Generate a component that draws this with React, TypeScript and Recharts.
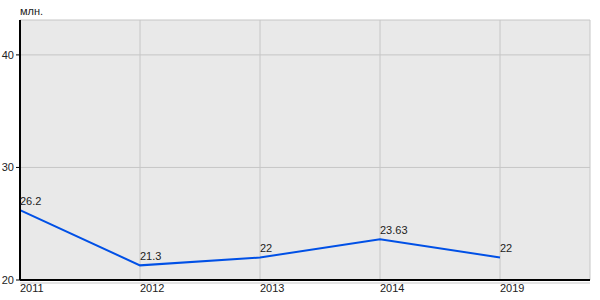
import React from 'react';
import { LineChart, Line, XAxis, YAxis, CartesianGrid, LabelList } from 'recharts';

const years = ['2011', '2012', '2013', '2014', '2019'];
const values = [26.2, 21.3, 22, 23.63, 22];
const yTicks = [20, 30, 40];
const unitLabel = 'млн.';

const data = years.map((y, i) => ({ idx: i, year: y, value: values[i] }));
const xTicks = years.map((_, i) => i);

const FONT = 'Liberation Sans, Arial, sans-serif';

const XTick = (props: any) => {
  const { x, y, payload } = props;
  return (
    <text x={x} y={y} textAnchor="start" dominantBaseline="central" fontSize={11} fontFamily={FONT} fill="#222">
      {years[payload.value]}
    </text>
  );
};

const PointLabel = (props: any) => {
  const { x, y, value } = props;
  return (
    <text x={x} y={y - 9} textAnchor="start" dominantBaseline="central" fontSize={11} fontFamily={FONT} fill="#222">
      {value}
    </text>
  );
};

export default function App() {
  return (
    <div style={{ position: 'absolute', left: 0, top: 0, width: 600, height: 300, background: '#fff' }}>
      <div style={{ position: 'absolute', left: 20, top: 5, fontSize: 11, fontFamily: FONT, color: '#222' }}>{unitLabel}</div>
      <LineChart width={600} height={300} data={data} margin={{ top: 20, right: 10, bottom: 0, left: 0 }}>
        <CartesianGrid fill="#e9e9e9" stroke="#c6c6c6" strokeWidth={1} />
        <XAxis
          xAxisId={0}
          dataKey="idx"
          type="number"
          domain={[0, 4.75]}
          ticks={xTicks}
          height={3}
          axisLine={{ stroke: '#000', strokeWidth: 2 }}
          tickLine={false}
          tick={<XTick />}
          interval={0}
        />
        <XAxis
          xAxisId={1}
          dataKey="idx"
          type="number"
          domain={[0, 4.75]}
          height={17}
          axisLine={{ stroke: '#c8c8c8', strokeWidth: 1 }}
          tickLine={false}
          tick={false}
        />
        <YAxis
          type="number"
          domain={[20, 43.1]}
          ticks={yTicks}
          width={20}
          axisLine={{ stroke: '#000', strokeWidth: 2 }}
          tickLine={{ stroke: '#000' }}
          tickSize={4}
          tick={{ fontSize: 11, fontFamily: FONT, fill: '#222' }}
          allowDataOverflow
        />
        <Line
          xAxisId={0}
          type="linear"
          dataKey="value"
          stroke="#0050e6"
          strokeWidth={2}
          dot={false}
          isAnimationActive={false}
        >
          <LabelList dataKey="value" content={<PointLabel />} />
        </Line>
      </LineChart>
    </div>
  );
}
